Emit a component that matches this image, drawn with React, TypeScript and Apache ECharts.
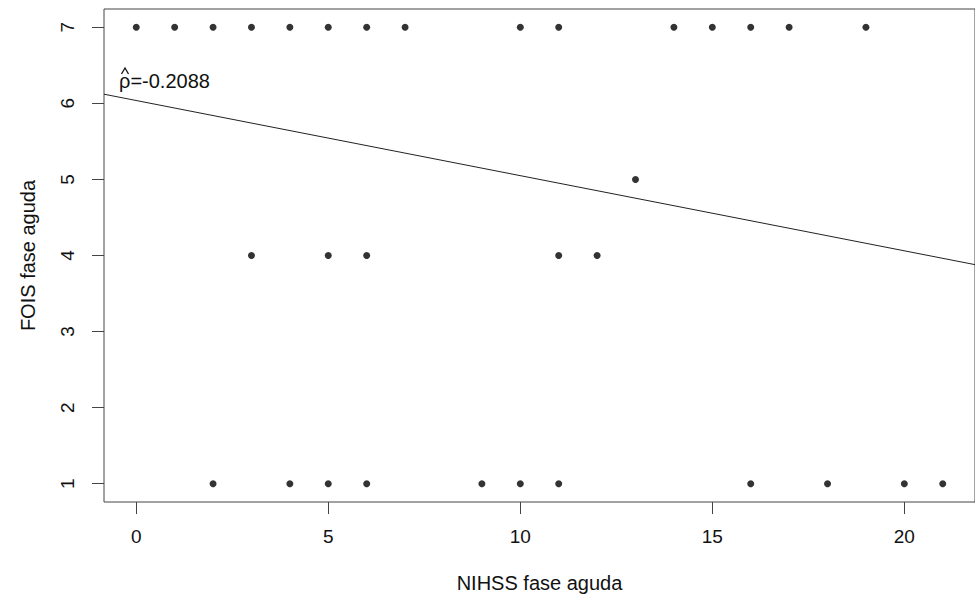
import React, { useEffect, useRef } from "react";
import * as echarts from "echarts";

// NIHSS (x) and FOIS (y) pairs
const nihss: number[] = [
  0, 1, 2, 3, 4, 5, 6, 7, 10, 11, 14, 15, 16, 17, 19,
  13,
  3, 5, 6, 11, 12,
  2, 4, 5, 6, 9, 10, 11, 16, 18, 20, 21,
];
const fois: number[] = [
  7, 7, 7, 7, 7, 7, 7, 7, 7, 7, 7, 7, 7, 7, 7,
  5,
  4, 4, 4, 4, 4,
  1, 1, 1, 1, 1, 1, 1, 1, 1, 1, 1,
];
// fitted line end points (x, y) across the plotting region
const fitX: number[] = [-0.84, 21.84];
const fitY: number[] = [6.12, 3.88];

const xTicks: number[] = [0, 5, 10, 15, 20];
const yTicks: number[] = [1, 2, 3, 4, 5, 6, 7];
const xTitle = "NIHSS fase aguda";
const yTitle = "FOIS fase aguda";
const rhoLabel = "ρ=-0.2088";

const FONT = '"Liberation Sans", Arial, Helvetica, sans-serif';

export default function App() {
  const ref = useRef<HTMLDivElement>(null);
  useEffect(() => {
    if (!ref.current) return;
    const chart = echarts.init(ref.current, undefined, { renderer: "svg" });
    const pts = nihss.map((x, i) => [x, fois[i]]);
    const line = fitX.map((x, i) => [x, fitY[i]]);
    chart.setOption({
      animation: false,
      backgroundColor: "#fff",
      grid: {
        show: true,
        left: 104,
        top: 9,
        width: 880,
        height: 494,
        borderColor: "#444",
        borderWidth: 1,
        backgroundColor: "transparent",
      },
      xAxis: {
        type: "value",
        min: -0.84,
        max: 21.84,
        position: "bottom",
        splitLine: { show: false },
        axisLine: { show: false, onZero: false },
        axisTick: {
          show: true,
          length: 12,
          customValues: xTicks,
          lineStyle: { color: "#444", width: 1 },
        },
        axisLabel: {
          customValues: xTicks,
          margin: 25,
          fontSize: 19,
          fontFamily: FONT,
          color: "#111",
        },
        name: xTitle,
        nameLocation: "middle",
        nameGap: 71,
        nameTextStyle: { fontSize: 20, fontFamily: FONT, color: "#111" },
      },
      yAxis: {
        type: "value",
        min: 0.76,
        max: 7.24,
        position: "left",
        splitLine: { show: false },
        axisLine: { show: false, onZero: false },
        axisTick: {
          show: true,
          length: 12,
          customValues: yTicks,
          lineStyle: { color: "#444", width: 1 },
        },
        axisLabel: {
          customValues: yTicks,
          rotate: 90,
          margin: 27,
          fontSize: 19,
          fontFamily: FONT,
          color: "#111",
        },
        name: yTitle,
        nameLocation: "middle",
        nameRotate: 90,
        nameGap: 66,
        nameTextStyle: { fontSize: 20, fontFamily: FONT, color: "#111" },
      },
      series: [
        {
          type: "line",
          data: line,
          showSymbol: false,
          symbol: "none",
          lineStyle: { color: "#222", width: 1 },
          silent: true,
        },
        {
          type: "scatter",
          data: pts,
          symbol: "circle",
          symbolSize: 7,
          itemStyle: { color: "#000" },
        },
      ],
      graphic: [
        {
          type: "text",
          left: 119,
          top: 71,
          style: {
            text: rhoLabel,
            font: `20px ${FONT}`,
            fill: "#111",
          },
        },
        {
          type: "polyline",
          shape: { points: [[121.5, 74], [125, 68], [128.5, 74]] },
          style: { stroke: "#111", lineWidth: 1.3, fill: "none" },
        },
      ],
    });
    return () => chart.dispose();
  }, []);
  return (
    <div
      ref={ref}
      style={{ position: "fixed", left: 0, top: 0, width: 975, height: 598 }}
    />
  );
}
